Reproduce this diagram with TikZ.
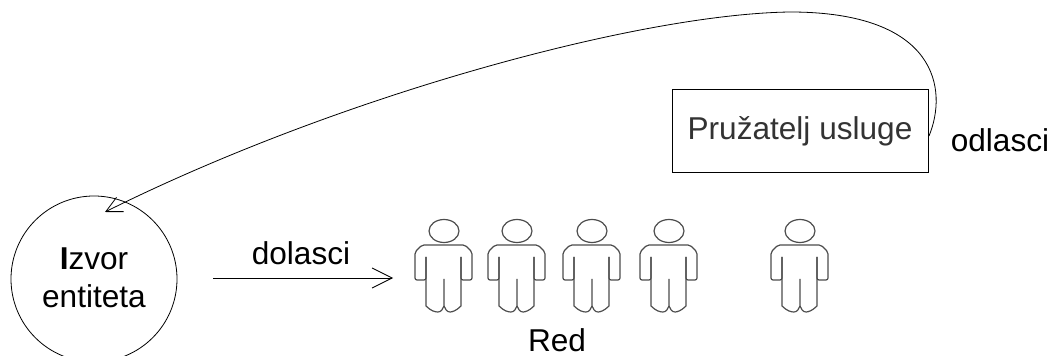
\documentclass[tikz,border=0pt]{standalone}
\usepackage{fontspec}
\setmainfont{Liberation Sans}
\usetikzlibrary{arrows.meta}
\tikzset{
	label text/.style={font=\fontsize{23.7}{28}\selectfont, inner sep=0pt},
	person line/.style={line width=0.9pt, black!70, line join=round},
	person/.pic={
		\draw[person line] (0,-48) ellipse (15 and 11.5);
		% ramena i ruke
		\draw[person line, rounded corners=1.5pt] (-18,-22) -- (-18,1) -- (-29,1) -- (-29,-27) -- (-22,-34) -- (21,-34) -- (28,-27) -- (28,1) -- (17,1) -- (17,-22);
		% noge
		\draw[person line] (-18,-22) -- (-18,27) .. controls (-13,32) and (-9,33) .. (-6,33) .. controls (-3,33) and (-1,30) .. (0,27) -- (0,0);
		\draw[person line] (17,-22) -- (17,27) .. controls (12,32) and (8,33) .. (6,33) .. controls (3,33) and (1,30) .. (0,27);
	}
}
\begin{document}
\begin{tikzpicture}[x=0.75pt, y=-0.75pt]
	\useasboundingbox (0,0) rectangle (1051,356);
	% izvor i pruzatelj
	\node[draw, circle, minimum size=124.5pt, inner sep=0pt, line width=0.6pt] (izvor) at (94,279) {};
	\node[label text] (izvorText) at (94,259) {\textbf{I}zvor};
	\node[label text] (entitetaText) at (94,296) {entiteta};
	\node[draw, line width=0.7pt, minimum width=192pt, minimum height=62.25pt, inner sep=0pt] (pruzatelj) at (800,130.5) {};
	\node[label text, text=black!80] (pruzateljText) at (800,131) {Pružatelj usluge};
	% red
	\foreach \name/\px in {a/444, b/517, c/592, d/669, e/800}
		\coordinate (red\name) at (\px,279);
	\foreach \name in {a, b, c, d, e}
		\pic at (red\name) {person};
	\node[label text] (red) at (557,340) {Red};
	\node[label text] (dolasci) at (301,253) {dolasci};
	\node[label text] (odlasci) at (1000,140) {odlasci};
	% strelice
	\coordinate (dolasciStart) at (213,278);
	\coordinate (dolasciEnd) at (393,278);
	\coordinate (izlaz) at (929,136);
	\coordinate (povratak) at (105,212);
	\draw[line width=0.6pt, -{Straight Barb[length=15pt, width=15pt, line width=0.6pt]}] (dolasciStart) -- (dolasciEnd);
	\draw[line width=0.6pt, -{Straight Barb[length=12pt, width=12pt, line width=0.6pt]}] (izlaz) .. controls (948,90) and (938,12) .. (790,12) .. controls (640,14) and (340,95) .. (povratak);
\end{tikzpicture}
\end{document}
